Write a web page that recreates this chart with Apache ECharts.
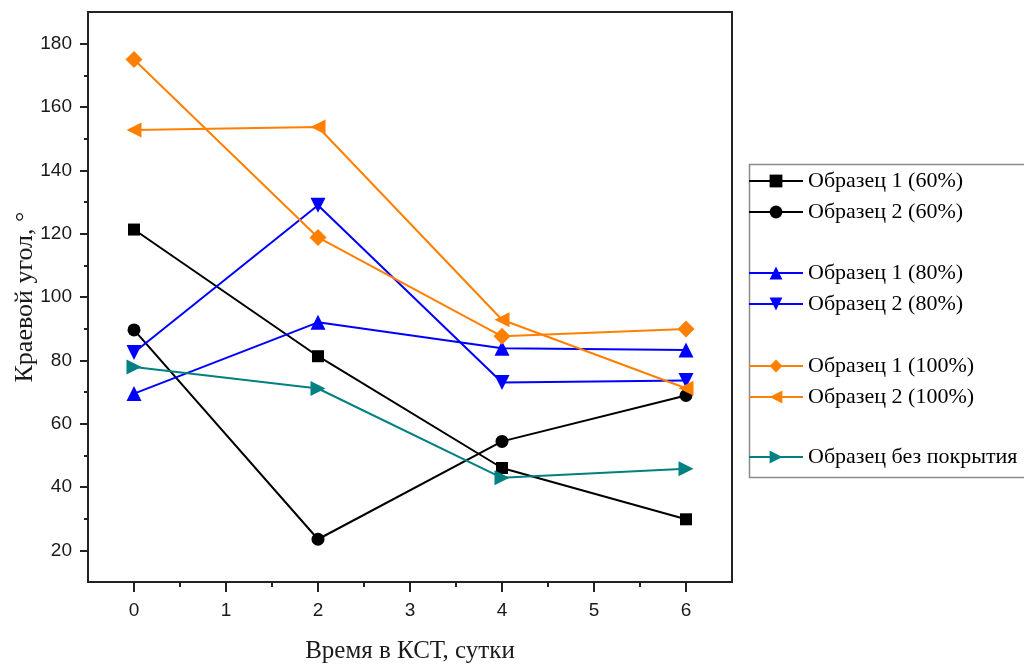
<!DOCTYPE html>
<html>
<head>
<meta charset="utf-8">
<script src="https://cdn.jsdelivr.net/npm/echarts@6/dist/echarts.min.js"></script>
<style>
html,body{margin:0;padding:0;background:#fff;}
#chart{width:1024px;height:664px;}
</style>
</head>
<body>
<div id="chart"></div>
<script>
const xValues = [0, 2, 4, 6];
const s1_60 = [121.3, 81.3, 46.0, 29.8];
const s2_60 = [89.6, 23.5, 54.4, 68.9];
const s1_80 = [69.5, 92.0, 83.8, 83.3];
const s2_80 = [82.5, 129.0, 73.0, 73.6];
const s1_100 = [175.0, 118.8, 87.6, 89.9];
const s2_100 = [152.7, 153.7, 92.8, 71.2];
const sNone = [77.9, 71.1, 42.9, 45.8];

const seriesNames = ['Образец 1 (60%)', 'Образец 2 (60%)', 'Образец 1 (80%)', 'Образец 2 (80%)',
  'Образец 1 (100%)', 'Образец 2 (100%)', 'Образец без покрытия'];
const xTicks = [0, 1, 2, 3, 4, 5, 6];
const xMinorTicks = [0.5, 1.5, 2.5, 3.5, 4.5, 5.5];
const yTicks = [20, 40, 60, 80, 100, 120, 140, 160, 180];
const yMinorTicks = [30, 50, 70, 90, 110, 130, 150, 170];
const xTitle = 'Время в КСТ, сутки';
const yTitle = 'Краевой угол, °';

const seriesData = [s1_60, s2_60, s1_80, s2_80, s1_100, s2_100, sNone];
const styles = [
  {color: '#000000', symbol: 'rect', size: 12, rot: 0},
  {color: '#000000', symbol: 'circle', size: 13, rot: 0},
  {color: '#0000ff', symbol: 'triangle', size: 15, rot: 0},
  {color: '#0000ff', symbol: 'triangle', size: 15, rot: 180},
  {color: '#ff8000', symbol: 'diamond', size: 17, rot: 0},
  {color: '#ff8000', symbol: 'triangle', size: 15, rot: 90},
  {color: '#008080', symbol: 'triangle', size: 15, rot: -90}
];

const series = seriesNames.map((n, i) => ({
  name: n,
  type: 'line',
  xAxisIndex: 0,
  yAxisIndex: 0,
  data: xValues.map((x, j) => [x, seriesData[i][j]]),
  symbol: styles[i].symbol,
  symbolSize: styles[i].size,
  symbolRotate: styles[i].rot,
  showSymbol: true,
  itemStyle: {color: styles[i].color},
  lineStyle: {color: styles[i].color, width: 2},
  emphasis: {disabled: true},
  z: 2 + i
}));

const legendFont = {fontFamily: 'Liberation Serif', fontSize: 22, color: '#000', lineHeight: 22};
const legendGroups = [
  [seriesNames[0], seriesNames[1]],
  [seriesNames[2], seriesNames[3]],
  [seriesNames[4], seriesNames[5]],
  [seriesNames[6]]
];
const legendTops = [170, 262, 355, 446];
const legends = legendGroups.map((g, i) => ({
  data: g,
  orient: 'vertical',
  left: 748,
  top: legendTops[i],
  padding: 0,
  itemWidth: 54,
  itemHeight: 16,
  itemGap: 9,
  textStyle: legendFont,
  selectedMode: false
}));

const labelFont = {fontFamily: 'Liberation Sans', fontSize: 19, color: '#1a1a1a'};
const titleFont = {fontFamily: 'Liberation Serif', fontSize: 25, color: '#1a1a1a'};
const yTitleFont = {fontFamily: 'Liberation Serif', fontSize: 26, color: '#1a1a1a'};

const chart = echarts.init(document.getElementById('chart'), null, {renderer: 'canvas'});
chart.setOption({
  animation: false,
  backgroundColor: '#ffffff',
  grid: {left: 88, right: 292, top: 12, bottom: 82, containLabel: false, outerBoundsMode: 'none',
    show: true, borderColor: '#222', borderWidth: 2, backgroundColor: 'transparent'},
  legend: legends,
  graphic: [{
    type: 'rect',
    left: 747, top: 162,
    shape: {width: 300, height: 313},
    style: {fill: 'none', stroke: '#8a8a8a', lineWidth: 1.5},
    z: -1
  }],
  xAxis: [{
    type: 'value', min: -0.5, max: 6.5,
    name: xTitle, nameLocation: 'middle', nameGap: 57, nameTextStyle: titleFont,
    axisLine: {show: true, onZero: false, lineStyle: {color: '#222', width: 2}},
    axisTick: {show: true, length: 10, customValues: xTicks, lineStyle: {color: '#222', width: 2}},
    axisLabel: {customValues: xTicks, margin: 19, ...labelFont},
    splitLine: {show: false}
  }, {
    type: 'value', min: -0.5, max: 6.5, position: 'bottom',
    axisLine: {show: false, onZero: false},
    axisTick: {show: true, length: 5, customValues: xMinorTicks, lineStyle: {color: '#222', width: 2}},
    axisLabel: {show: false},
    splitLine: {show: false}
  }],
  yAxis: [{
    type: 'value', min: 10, max: 190,
    name: yTitle, nameLocation: 'middle', nameGap: 50, nameRotate: 90, nameTextStyle: yTitleFont,
    nameMoveOverlap: false,
    axisLine: {show: true, onZero: false, lineStyle: {color: '#222', width: 2}},
    axisTick: {show: true, length: 8, customValues: yTicks, lineStyle: {color: '#222', width: 2}},
    axisLabel: {customValues: yTicks, margin: 16, ...labelFont},
    splitLine: {show: false}
  }, {
    type: 'value', min: 10, max: 190, position: 'left',
    axisLine: {show: false, onZero: false},
    axisTick: {show: true, length: 4, customValues: yMinorTicks, lineStyle: {color: '#222', width: 2}},
    axisLabel: {show: false},
    splitLine: {show: false}
  }],
  series: series
});
</script>
</body>
</html>
